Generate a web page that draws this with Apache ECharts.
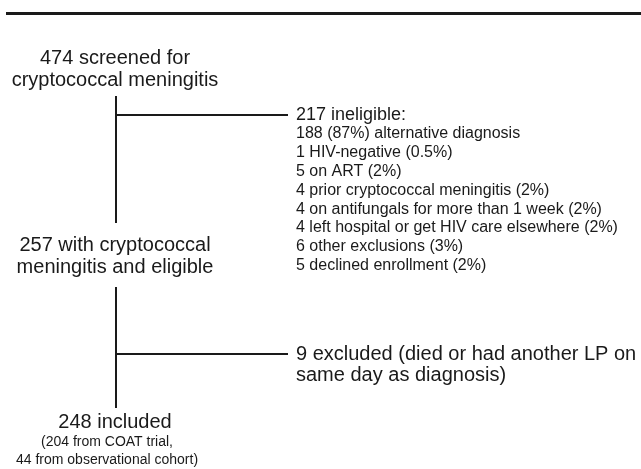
<!DOCTYPE html>
<html>
<head>
<meta charset="utf-8">
<script src="https://cdn.jsdelivr.net/npm/echarts@6/dist/echarts.min.js"></script>
<style>
html,body{margin:0;padding:0;background:#fff;}
#chart{width:641px;height:469px;}
</style>
</head>
<body>
<div id="chart"></div>
<script>
// ---- data ----
const screened = 474;
const ineligible = 217;
const eligible = 257;
const excluded = 9;
const included = 248;
const fromTrial = 204;
const fromCohort = 44;
const reasonCounts = [188, 1, 5, 4, 4, 4, 6, 5];
const reasonPcts = ['87%', '0.5%', '2%', '2%', '2%', '2%', '3%', '2%'];
const reasonLabels = [
  'alternative diagnosis',
  'HIV-negative',
  'on ART',
  'prior cryptococcal meningitis',
  'on antifungals for more than 1 week',
  'left hospital or get HIV care elsewhere',
  'other exclusions',
  'declined enrollment'
];

const reasonLines = reasonCounts.map((c, i) =>
  i === 0 ? `${c} (${reasonPcts[i]}) ${reasonLabels[i]}`
          : `${c} ${reasonLabels[i]} (${reasonPcts[i]})`);

// ---- layout ----
const FONT = '"Liberation Sans", Arial, Helvetica, sans-serif';
const INK = '#1a1a1a';
const cx = 115;      // centre of the left column text
const sx = 107;      // centre of the small bottom lines
const vx = 116;      // x of the vertical flow line
const bx = 288;      // end of branch lines
const tx = 296;      // left of right-hand text

function text(x, y, s, size, align) {
  return {
    type: 'text', x: x, y: y,
    style: { text: s, fill: INK, font: size + 'px ' + FONT,
             textAlign: align || 'center', textVerticalAlign: 'middle' }
  };
}
function line(x1, y1, x2, y2, w) {
  return { type: 'line', shape: { x1, y1, x2, y2 },
           style: { stroke: INK, lineWidth: w || 2 } };
}

const els = [];
els.push(line(6, 13.5, 641, 13.5, 3));
els.push(text(cx, 58, `${screened} screened for`, 20));
els.push(text(cx, 80, 'cryptococcal meningitis', 20));
els.push(line(vx, 96, vx, 223, 2));
els.push(line(vx, 115, bx, 115, 2));
els.push(text(tx, 115, `${ineligible} ineligible:`, 18, 'left'));
reasonLines.forEach((s, i) => els.push(text(tx, 134 + i * 18.8, s, 16, 'left')));
els.push(text(cx, 245, `${eligible} with cryptococcal`, 20));
els.push(text(cx, 267, 'meningitis and eligible', 20));
els.push(line(vx, 287, vx, 408, 2));
els.push(line(vx, 354, bx, 354, 2));
els.push(text(tx, 354, `${excluded} excluded (died or had another LP on`, 20, 'left'));
els.push(text(tx, 375, 'same day as diagnosis)', 20, 'left'));
els.push(text(cx, 422, `${included} included`, 20));
els.push(text(sx, 442, `(${fromTrial} from COAT trial,`, 14));
els.push(text(sx, 460, `${fromCohort} from observational cohort)`, 14));

const chart = echarts.init(document.getElementById('chart'), null, { renderer: 'canvas' });
chart.setOption({
  backgroundColor: '#fff',
  animation: false,
  graphic: { elements: els }
});
</script>
</body>
</html>
